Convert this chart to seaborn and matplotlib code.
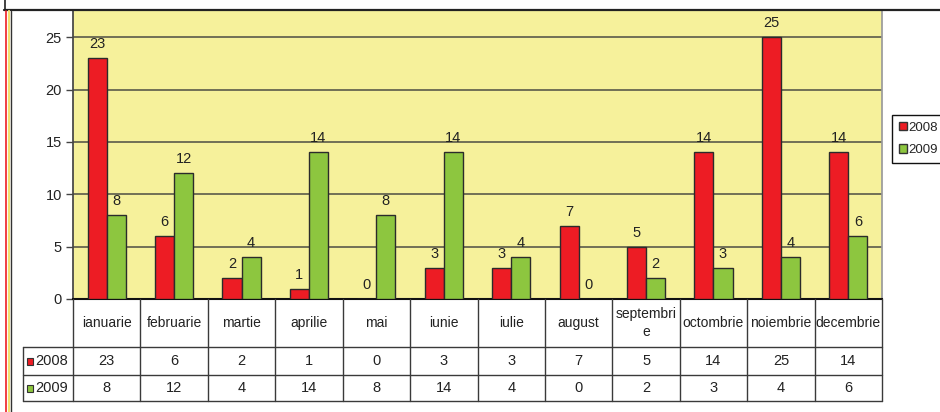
import pandas as pd
import matplotlib
matplotlib.use('Agg')
import matplotlib.pyplot as plt
import seaborn as sns
from matplotlib.patches import Patch, Rectangle

# date: luni si valori pe ani
luni = ['ianuarie', 'februarie', 'martie', 'aprilie', 'mai', 'iunie',
        'iulie', 'august', 'septembrie', 'octombrie', 'noiembrie', 'decembrie']
valori_2008 = [23, 6, 2, 1, 0, 3, 3, 7, 5, 14, 25, 14]
valori_2009 = [8, 12, 4, 14, 8, 14, 4, 0, 2, 3, 4, 6]
ani = ['2008', '2009']
culori = ['#ED1C24', '#8DC63F']

sns.set_theme(style='white')
plt.rcParams['font.family'] = ['Liberation Sans Narrow', 'Liberation Sans', 'DejaVu Sans']

df = pd.DataFrame({
    'luna': luni * 2,
    'valoare': valori_2008 + valori_2009,
    'an': [ani[0]] * len(luni) + [ani[1]] * len(luni),
})

W, H = 940, 412
fig = plt.figure(figsize=(W / 100, H / 100), dpi=100)


def px(x0, y0, x1, y1):
    # dreptunghi in pixeli -> coordonate figura
    return [x0 / W, 1 - y1 / H, (x1 - x0) / W, (y1 - y0) / H]


FS = 10
TXT = '#222222'
LINIE = '#3a3a3a'

# graficul cu bare
ax = fig.add_axes(px(73, 11, 882, 299))
ax.set_facecolor('#F6F19B')
sns.barplot(data=df, x='luna', y='valoare', hue='an', palette=culori,
            width=0.565, edgecolor='#2b2b2b', linewidth=1, legend=False,
            saturation=1, ax=ax, zorder=3)
for c in ax.containers:
    ax.bar_label(c, padding=5, fontsize=FS + 0.5, color=TXT)

ax.set_ylim(0, 27.5)
ax.set_xlim(-0.5, len(luni) - 0.5)
ax.set_yticks(range(0, 26, 5))
ax.set_xticks([])
ax.set_xlabel('')
ax.set_ylabel('')
ax.yaxis.grid(True, color='#5a5a4a', linewidth=1.2)
ax.set_axisbelow(True)
ax.tick_params(axis='y', direction='out', length=5, width=1, color='#444444',
               labelsize=FS + 0.5, labelcolor=TXT, pad=3, left=True)
ax.spines['top'].set_visible(False)
ax.spines['left'].set_color('#444444')
ax.spines['bottom'].set_color('#111111')
ax.spines['bottom'].set_linewidth(1.5)
ax.spines['right'].set_color('#9a9a9a')

# legenda
handles = [Patch(facecolor=c, edgecolor='#333333', label=a) for c, a in zip(culori, ani)]
leg = ax.legend(handles=handles, loc='upper left', bbox_to_anchor=(892 / W, 1 - 115 / H),
                bbox_transform=fig.transFigure, frameon=True, fancybox=False,
                framealpha=1, edgecolor='#111111', fontsize=FS - 0.5, handlelength=0.6,
                handleheight=0.6, handletextpad=0.15, borderpad=0.5, labelspacing=0.8,
                borderaxespad=0)
leg.get_frame().set_linewidth(1)

# tabelul de date de sub grafic
tab = fig.add_axes(px(73, 299, 882, 401))
tab.set_xlim(-0.5, len(luni) - 0.5)
tab.set_ylim(102, 0)
tab.axis('off')
cw = 809 / len(luni)
u = lambda xp: -0.5 + (xp - 73) / cw
x_st = u(23)
for yy in (48, 76, 102):
    tab.plot([x_st, len(luni) - 0.5], [yy, yy], color=LINIE, lw=1, clip_on=False)
tab.plot([x_st, x_st], [48, 102], color=LINIE, lw=1, clip_on=False)
for i in range(len(luni) + 1):
    tab.plot([i - 0.5, i - 0.5], [0, 102], color=LINIE, lw=1, clip_on=False)

for i, m in enumerate(luni):
    eticheta = m if len(m) < 10 else m[:9] + '\n' + m[9:]
    tab.text(i, 24, eticheta, ha='center', va='center', fontsize=FS, color=TXT,
             linespacing=1.3)
    tab.text(i, 62, str(valori_2008[i]), ha='center', va='center', fontsize=FS + 0.5, color=TXT)
    tab.text(i, 89, str(valori_2009[i]), ha='center', va='center', fontsize=FS + 0.5, color=TXT)

for a, c, yy in zip(ani, culori, (62, 89)):
    tab.add_patch(Rectangle((u(26.5), yy - 3.5), u(33) - u(26.5), 7, facecolor=c,
                            edgecolor='#333333', lw=0.8, clip_on=False))
    tab.text(u(35), yy, a, ha='left', va='center', fontsize=FS + 0.5, color=TXT, clip_on=False)

# chenarul din jur
deco = fig.add_axes([0, 0, 1, 1], facecolor='none')
deco.set_xlim(0, W)
deco.set_ylim(H, 0)
deco.axis('off')
deco.plot([4, W], [10, 10], color='#222222', lw=1.6)
deco.plot([4.5, 4.5], [0, 10], color='#222222', lw=1.2)
deco.plot([6, 6], [11, H], color='#ED1C24', lw=1.2)
deco.plot([8.5, 8.5], [11, H], color='#F2E070', lw=1.6)
deco.plot([10.5, 10.5], [11, H], color='#333333', lw=1)

fig.savefig('out.png', dpi=100, facecolor='white')
